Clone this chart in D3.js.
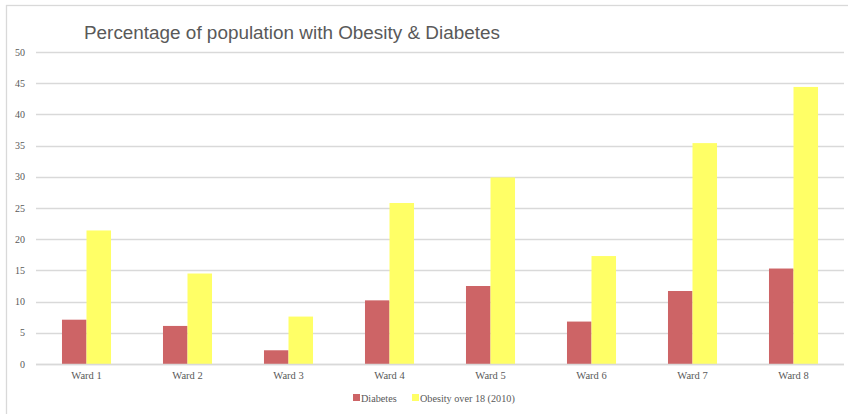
<!DOCTYPE html>
<html><head><meta charset="utf-8">
<script src="https://cdn.jsdelivr.net/npm/d3@7"></script>
<style>body{margin:0;background:#fff;}svg{display:block;}</style>
</head><body>
<script>
const categories = ["Ward 1","Ward 2","Ward 3","Ward 4","Ward 5","Ward 6","Ward 7","Ward 8"];
const seriesNames = ["Diabetes","Obesity over 18 (2010)"];
const diabetes = [7.1, 6.1, 2.2, 10.2, 12.5, 6.8, 11.7, 15.3];
const obesity = [21.4, 14.5, 7.6, 25.8, 29.9, 17.3, 35.4, 44.4];
const yTicks = [0,5,10,15,20,25,30,35,40,45,50];
const colors = ["#cd6466", "#ffff66"];
const title = "Percentage of population with Obesity & Diabetes";

const W = 848, H = 414;
const m = {left: 36, right: 4, top: 52, bottom: 50};
const svg = d3.select("body").append("svg").attr("width", W).attr("height", H);

// chart border (right and bottom edges fall outside the view)
svg.append("rect").attr("x", 6.5).attr("y", 5.5).attr("width", 860).attr("height", 420)
  .attr("fill", "none").attr("stroke", "#d9d9d9").attr("stroke-width", 1.3);

const x0 = d3.scaleBand().domain(categories).range([m.left, W - m.right]).paddingInner(0).paddingOuter(0);
const x1 = d3.scaleBand().domain(seriesNames).range([0, x0.bandwidth()]).paddingInner(0).paddingOuter(1.06);
const y = d3.scaleLinear().domain([0, 50]).range([364, 52]);

// gridlines
svg.append("g").selectAll("line").data(yTicks).join("line")
  .attr("x1", m.left).attr("x2", W - m.right)
  .attr("y1", d => Math.round(y(d)) + 0.5).attr("y2", d => Math.round(y(d)) + 0.5)
  .attr("stroke", "#d9d9d9").attr("stroke-width", 1.3);

// y labels
svg.append("g").selectAll("text").data(yTicks).join("text")
  .attr("x", 25).attr("y", d => y(d)).attr("dy", "0.35em")
  .attr("text-anchor", "end").attr("font-family", "Liberation Serif, serif")
  .attr("font-size", 10).attr("fill", "#595959").text(d => d);

// bars
const data = categories.map((c, i) => ({cat: c, vals: [diabetes[i], obesity[i]]}));
const g = svg.append("g").selectAll("g").data(data).join("g")
  .attr("transform", d => `translate(${x0(d.cat)},0)`);
g.selectAll("rect").data(d => d.vals.map((v, j) => ({name: seriesNames[j], v, j}))).join("rect")
  .attr("x", d => x1(d.name)).attr("width", x1.bandwidth())
  .attr("y", d => y(d.v)).attr("height", d => y(0) - y(d.v))
  .attr("fill", d => colors[d.j]);

// baseline
svg.append("line").attr("x1", m.left).attr("x2", W - m.right)
  .attr("y1", Math.round(y(0)) + 0.5).attr("y2", Math.round(y(0)) + 0.5)
  .attr("stroke", "#d9d9d9").attr("stroke-width", 1.3);

// x labels
svg.append("g").selectAll("text").data(categories).join("text")
  .attr("x", d => x0(d) + x0.bandwidth() / 2).attr("y", 379)
  .attr("text-anchor", "middle").attr("font-family", "Liberation Serif, serif")
  .attr("font-size", 10.5).attr("fill", "#595959").text(d => d);

// title
svg.append("text").attr("x", 84).attr("y", 39)
  .attr("font-family", "Liberation Sans, Arial, sans-serif").attr("font-size", 18.9)
  .attr("fill", "#595959").text(title);

// legend
const legX = [353, 412];
const leg = svg.append("g").selectAll("g").data(seriesNames).join("g")
  .attr("transform", (d, i) => `translate(${legX[i]},398)`);
leg.append("rect").attr("x", 0).attr("y", -4).attr("width", 7).attr("height", 7)
  .attr("fill", (d, i) => colors[i]);
leg.append("text").attr("x", 8).attr("y", 0).attr("dy", "0.35em")
  .attr("font-family", "Liberation Serif, serif").attr("font-size", 10.2)
  .attr("fill", "#595959").text(d => d);
</script>
</body></html>
